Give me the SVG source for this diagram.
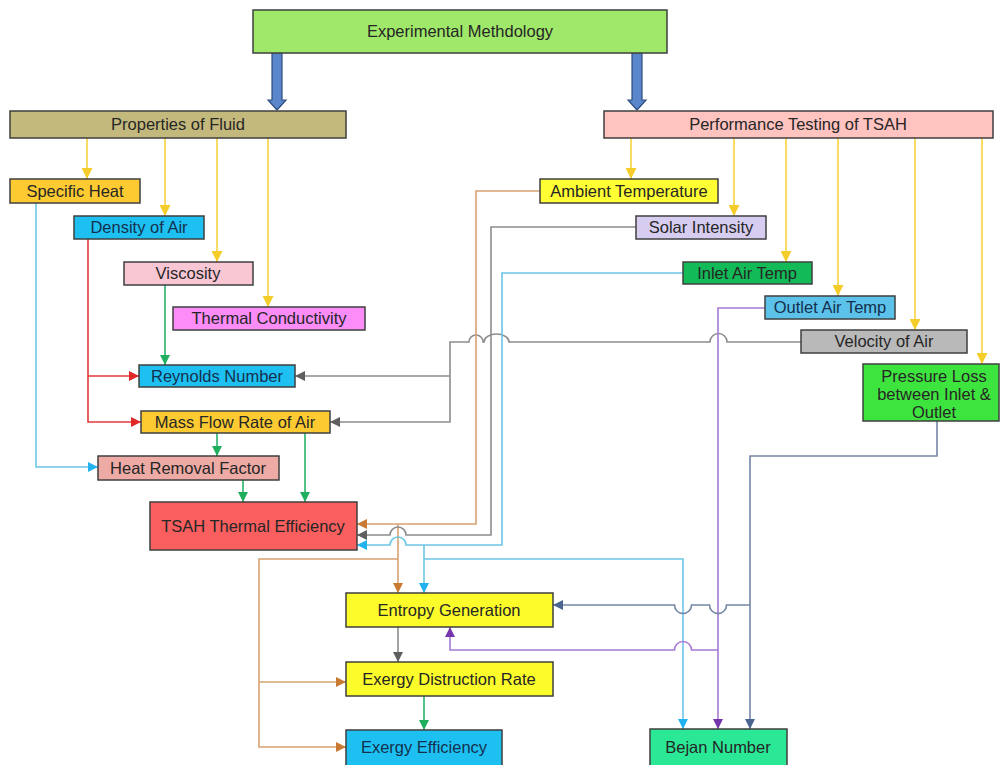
<svg xmlns="http://www.w3.org/2000/svg" width="1000" height="765" viewBox="0 0 1000 765">
<defs>
<style>
.box{stroke:#3f3f3f;stroke-width:1.5}
text{font-family:"Liberation Sans",Arial,sans-serif;font-size:16.5px;fill:#262626;text-anchor:middle}
.nv{fill:#14304f}
.c{fill:none;stroke-width:1.6}
.yl{stroke:#f7d23e}
.cy{stroke:#6cc6e6}
.rd{stroke:#e23a3a}
.gn{stroke:#27b36a}
.gy{stroke:#8c8c8c}
.or{stroke:#d6a272}
.pu{stroke:#a77ad4}
.sl{stroke:#7486a6}
</style>
<marker id="aY" viewBox="0 0 10 10" refX="10" refY="5" markerWidth="11" markerHeight="11" markerUnits="userSpaceOnUse" orient="auto"><path d="M0,0 L10,5 L0,10 z" fill="#f5cd2a"/></marker>
<marker id="aC" viewBox="0 0 10 10" refX="10" refY="5" markerWidth="10" markerHeight="10" markerUnits="userSpaceOnUse" orient="auto"><path d="M0,0 L10,5 L0,10 z" fill="#22b2ee"/></marker>
<marker id="aR" viewBox="0 0 10 10" refX="10" refY="5" markerWidth="10" markerHeight="10" markerUnits="userSpaceOnUse" orient="auto"><path d="M0,0 L10,5 L0,10 z" fill="#e02828"/></marker>
<marker id="aG" viewBox="0 0 10 10" refX="10" refY="5" markerWidth="10" markerHeight="10" markerUnits="userSpaceOnUse" orient="auto"><path d="M0,0 L10,5 L0,10 z" fill="#1fae5e"/></marker>
<marker id="aK" viewBox="0 0 10 10" refX="10" refY="5" markerWidth="10" markerHeight="10" markerUnits="userSpaceOnUse" orient="auto"><path d="M0,0 L10,5 L0,10 z" fill="#5f5f5f"/></marker>
<marker id="aO" viewBox="0 0 10 10" refX="10" refY="5" markerWidth="10" markerHeight="10" markerUnits="userSpaceOnUse" orient="auto"><path d="M0,0 L10,5 L0,10 z" fill="#c87a32"/></marker>
<marker id="aP" viewBox="0 0 10 10" refX="10" refY="5" markerWidth="10" markerHeight="10" markerUnits="userSpaceOnUse" orient="auto"><path d="M0,0 L10,5 L0,10 z" fill="#7436aa"/></marker>
<marker id="aS" viewBox="0 0 10 10" refX="10" refY="5" markerWidth="10" markerHeight="10" markerUnits="userSpaceOnUse" orient="auto"><path d="M0,0 L10,5 L0,10 z" fill="#4a6590"/></marker>
</defs>
<rect width="1000" height="765" fill="#ffffff"/>

<g id="connectors">
<path d="M272,53 H282 V100 H286 L277,110 L268,100 H272 Z" fill="#5a86cc" stroke="#2e4c7e" stroke-width="1.2"/>
<path d="M632,53 H642 V100 H646 L637,110 L628,100 H632 Z" fill="#5a86cc" stroke="#2e4c7e" stroke-width="1.2"/>
<path class="c yl" d="M87,138 V179" marker-end="url(#aY)"/>
<path class="c yl" d="M165,138 V216" marker-end="url(#aY)"/>
<path class="c yl" d="M217,138 V262" marker-end="url(#aY)"/>
<path class="c yl" d="M268,138 V307" marker-end="url(#aY)"/>
<path class="c yl" d="M631,138 V179" marker-end="url(#aY)"/>
<path class="c yl" d="M734,138 V216" marker-end="url(#aY)"/>
<path class="c yl" d="M786,138 V262" marker-end="url(#aY)"/>
<path class="c yl" d="M838,138 V296" marker-end="url(#aY)"/>
<path class="c yl" d="M915,138 V330" marker-end="url(#aY)"/>
<path class="c yl" d="M982,138 V364" marker-end="url(#aY)"/>
<path class="c cy" d="M36,203 V467 H98" marker-end="url(#aC)"/>
<path class="c rd" d="M88,239 V422 H141" marker-end="url(#aR)"/>
<path class="c rd" d="M88,376 H139" marker-end="url(#aR)"/>
<path class="c gn" d="M165,285 V365" marker-end="url(#aG)"/>
<path class="c gn" d="M217,433 V456" marker-end="url(#aG)"/>
<path class="c gn" d="M305,433 V502" marker-end="url(#aG)"/>
<path class="c gn" d="M243,480 V502" marker-end="url(#aG)"/>
<path class="c gy" d="M801,342 H727 A8.5,8.5 0 0 0 710,342 H509 A12.5,8 0 0 0 484,342 H483 A7,7 0 0 0 469,342 H450 V422 H330" marker-end="url(#aK)"/>
<path class="c gy" d="M450,376 H295" marker-end="url(#aK)"/>
<path class="c or" d="M540,191 H476 V524 H357" marker-end="url(#aO)"/>
<path class="c or" d="M398,524 V593" marker-end="url(#aO)"/>
<path class="c or" d="M398,559 H259 V747 H346" marker-end="url(#aO)"/>
<path class="c or" d="M259,682 H346" marker-end="url(#aO)"/>
<path class="c gy" d="M636,227 H491 V535 H406 A8,8 0 0 0 390,535 H357" marker-end="url(#aK)"/>
<path class="c cy" d="M683,273 H502 V545 H406 A8,8 0 0 0 390,545 H357" marker-end="url(#aC)"/>
<path class="c cy" d="M424,545 V593" marker-end="url(#aC)"/>
<path class="c cy" d="M424,559 H683 V729" marker-end="url(#aC)"/>
<path class="c pu" d="M765,308 H718 V729" marker-end="url(#aP)"/>
<path class="c pu" d="M718,650 H691.5 A8.5,8.5 0 0 0 674.5,650 H450 V627" marker-end="url(#aP)"/>
<path class="c sl" d="M937,421 V456 H750 V729" marker-end="url(#aS)"/>
<path class="c sl" d="M750,605 H726.5 A8.5,8.5 0 0 1 709.5,605 H691.5 A8.5,8.5 0 0 1 674.5,605 H553" marker-end="url(#aS)"/>
<path class="c gy" d="M398,627 V662" marker-end="url(#aK)"/>
<path class="c gn" d="M424,696 V730" marker-end="url(#aG)"/>
</g>

<g id="n-exp"><rect class="box" x="253" y="10" width="414" height="43" fill="#a0e86a"/><text x="460" y="37">Experimental Methdology</text></g>
<g id="n-prop"><rect class="box" x="10" y="111" width="336" height="27" fill="#c4b97c"/><text x="178" y="130">Properties of Fluid</text></g>
<g id="n-perf"><rect class="box" x="604" y="111" width="389" height="27" fill="#ffc3c0"/><text x="798" y="130">Performance Testing of TSAH</text></g>
<g id="n-sh"><rect class="box" x="10" y="179" width="130" height="24" fill="#fdcb31"/><text x="75" y="197">Specific Heat</text></g>
<g id="n-den"><rect class="box" x="74" y="216" width="130" height="23" fill="#1ec0f2"/><text class="nv" x="139" y="233">Density of Air</text></g>
<g id="n-vis"><rect class="box" x="124" y="262" width="129" height="23" fill="#f9c6d3"/><text x="188" y="279">Viscosity</text></g>
<g id="n-tc"><rect class="box" x="173" y="307" width="192" height="23" fill="#fb8cf8"/><text x="269" y="324">Thermal Conductivity</text></g>
<g id="n-re"><rect class="box" x="139" y="365" width="156" height="22" fill="#1ec0f2"/><text class="nv" x="217" y="382">Reynolds Number</text></g>
<g id="n-mfr"><rect class="box" x="141" y="411" width="189" height="22" fill="#fdcb31"/><text x="235" y="428">Mass Flow Rate of Air</text></g>
<g id="n-hrf"><rect class="box" x="98" y="456" width="181" height="24" fill="#eeaaa4"/><text x="188" y="474">Heat Removal Factor</text></g>
<g id="n-te"><rect class="box" x="150" y="502" width="207" height="48" fill="#fa5f5f"/><text x="253" y="532">TSAH Thermal Efficiency</text></g>
<g id="n-eg"><rect class="box" x="346" y="593" width="207" height="34" fill="#fbfc2a"/><text x="449" y="616">Entropy Generation</text></g>
<g id="n-edr"><rect class="box" x="346" y="662" width="207" height="34" fill="#fbfc2a"/><text x="449" y="685">Exergy Distruction Rate</text></g>
<g id="n-ee"><rect class="box" x="346" y="730" width="156" height="38" fill="#1ec0f2"/><text class="nv" x="424" y="753">Exergy Efficiency</text></g>
<g id="n-bej"><rect class="box" x="650" y="729" width="137" height="39" fill="#2ae896"/><text x="718" y="753">Bejan Number</text></g>
<g id="n-amb"><rect class="box" x="540" y="179" width="178" height="24" fill="#ffff33"/><text x="629" y="197">Ambient Temperature</text></g>
<g id="n-sol"><rect class="box" x="636" y="216" width="130" height="23" fill="#d7cdf0"/><text x="701" y="233">Solar Intensity</text></g>
<g id="n-in"><rect class="box" x="683" y="262" width="129" height="22" fill="#12bb57"/><text x="747" y="279">Inlet Air Temp</text></g>
<g id="n-out"><rect class="box" x="765" y="296" width="130" height="23" fill="#5cc2ea"/><text class="nv" x="830" y="313">Outlet Air Temp</text></g>
<g id="n-vel"><rect class="box" x="801" y="330" width="166" height="23" fill="#b9b9b9"/><text x="884" y="347">Velocity of Air</text></g>
<g id="n-pl"><rect class="box" x="863" y="364" width="136" height="57" fill="#3ee43e"/><text x="934" y="382">Pressure Loss</text><text x="934" y="400">between Inlet &amp;</text><text x="934" y="418">Outlet</text></g>
</svg>
